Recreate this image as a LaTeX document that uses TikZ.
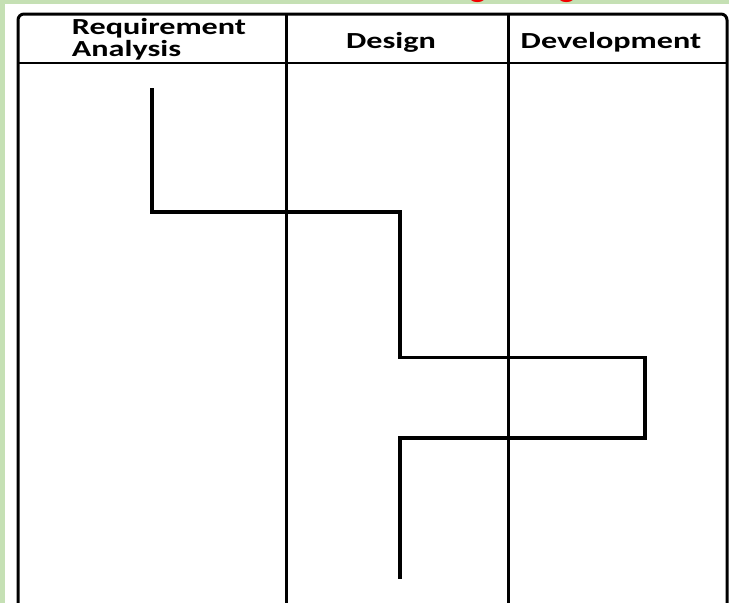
\documentclass[tikz,border=0pt]{standalone}
\usepackage{fontspec}
\setmainfont{Carlito}
\newfontfamily\hdrfont{Carlito}[FakeStretch=1.4]
\definecolor{cgreen}{HTML}{C5E0B4}
\definecolor{cred}{HTML}{F20000}

\begin{document}
\begin{tikzpicture}[x=1pt,y=-1pt,
  lane/.style={line width=3pt,black},
  flow/.style={line width=3.2pt,black},
  hdr/.style={font=\hdrfont\bfseries\fontsize{23}{22.5}\selectfont,
    align=left,inner sep=0pt},
  ttl/.style={font=\bfseries\fontsize{36}{36}\selectfont,text=cred,
    anchor=base,inner sep=0pt}]
  \useasboundingbox (0,0) rectangle (729,603);
  \fill[cgreen] (0,0) rectangle (729,603);
  \fill[white] (5,3.5) rectangle (729,603);
  % title, cut off at the top edge
  \begin{scope}
    \clip (0,0) rectangle (729,3.5);
    \node[ttl] (g1) at (478,-4) {g};
    \node[ttl] (g2) at (567,-4) {g};
  \end{scope}
  % lanes
  \draw[lane,rounded corners=6pt] (18,620) -- (18,14) -- (727,14) -- (727,620);
  \draw[line width=2pt] (18,62.5) -- (727,62.5);
  \draw[lane] (286,14) -- (286,620);
  \draw[lane] (508,14) -- (508,620);
  \node[hdr] (req) at (159,39) {Requirement\\Analysis};
  \node[hdr] (des) at (391,42) {Design};
  \node[hdr] (dev) at (611,42) {Development};
  % flow line
  \coordinate (f1) at (152,88);
  \coordinate (f2) at (152,212);
  \coordinate (f3) at (400,212);
  \coordinate (f4) at (400,357.5);
  \coordinate (f5) at (645,357.5);
  \coordinate (f6) at (645,438);
  \coordinate (f7) at (400,438);
  \coordinate (f8) at (400,579);
  \draw[flow] (f1) -- (f2) -- (f3) -- (f4) -- (f5) -- (f6) -- (f7) -- (f8);
\end{tikzpicture}
\end{document}
